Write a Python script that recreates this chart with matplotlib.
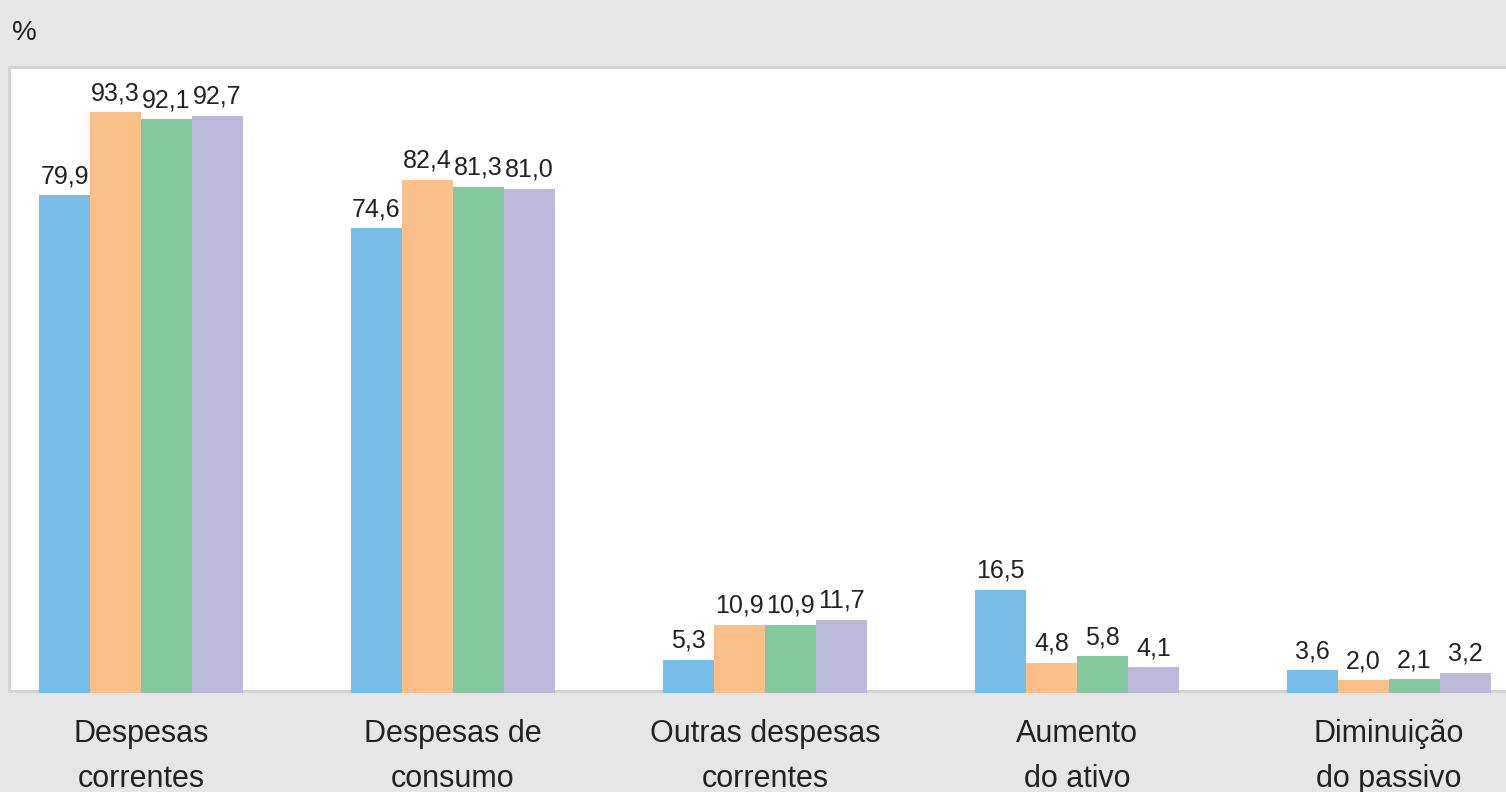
import matplotlib.pyplot as plt
from matplotlib.patches import Rectangle
from matplotlib.transforms import blended_transform_factory
import numpy as np

categories = ["Despesas\ncorrentes", "Despesas de\nconsumo", "Outras despesas\ncorrentes",
              "Aumento\ndo ativo", "Diminuição\ndo passivo"]
serie1 = [79.9, 74.6, 5.3, 16.5, 3.6]
serie2 = [93.3, 82.4, 10.9, 4.8, 2.0]
serie3 = [92.1, 81.3, 10.9, 5.8, 2.1]
serie4 = [92.7, 81.0, 11.7, 4.1, 3.2]
colors = ["#76bde8", "#fbbf8a", "#84c99d", "#bcb8da"]

W, H = 1506, 792
plt.rcParams['font.family'] = ['Liberation Sans', 'DejaVu Sans']
txt = "#222222"

fig = plt.figure(figsize=(W / 100, H / 100), dpi=100)
fig.patch.set_facecolor("#e6e6e6")

# white plot box with gray border
box = Rectangle((8.5 / W, 1 - 691 / H), 1.0, (691 - 66.5) / H, transform=fig.transFigure,
                facecolor="white", edgecolor="#d4d4d4", linewidth=2.2, zorder=-5)
fig.patches.append(box)

base = 692.5
ax = fig.add_axes([0, 1 - base / H, 1, (base - 65) / H])
ax.patch.set_visible(False)
px_per_unit = (base - 112) / 93.3
ax.set_ylim(0, (base - 65) / px_per_unit)
ax.set_xlim(-141 / 312, (W - 141) / 312)
for s in ax.spines.values():
    s.set_visible(False)
ax.set_yticks([])
ax.set_xticks([])

x = np.arange(len(categories))
w = 51 / 312
for i, vals in enumerate([serie1, serie2, serie3, serie4]):
    bars = ax.bar(x + (i - 1.5) * w, vals, w, color=colors[i], zorder=3)
    ax.bar_label(bars, labels=[f"{v:.1f}".replace(".", ",") for v in vals],
                 padding=5, fontsize=18, color=txt)

# category labels, one text per line
tr = blended_transform_factory(ax.transData, fig.transFigure)
for xi, cat in zip(x, categories):
    for j, line in enumerate(cat.split("\n")):
        ax.text(xi, 1 - (742 + 45 * j) / H, line, transform=tr, ha='center', va='baseline',
                fontsize=22, color=txt, clip_on=False)

fig.text(12 / W, 1 - 40 / H, "%", fontsize=20, color=txt, va='baseline', ha='left')

fig.savefig("out.png", dpi=100, facecolor=fig.get_facecolor())
